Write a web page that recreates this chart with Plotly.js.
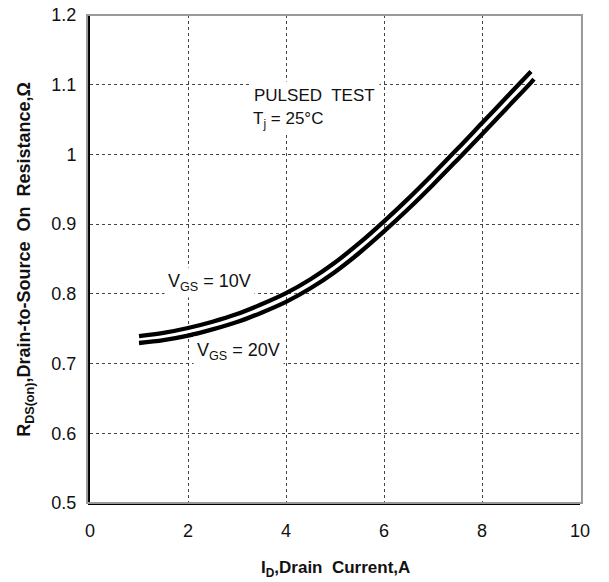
<!DOCTYPE html>
<html>
<head>
<meta charset="utf-8">
<script src="https://cdn.plot.ly/plotly-3.0.1.min.js"></script>
<style>html,body{margin:0;padding:0;background:#fff;}#chart{width:609px;height:582px;}</style>
</head>
<body>
<div id="chart"></div>
<script>
// Drain current (A) / on-resistance (ohm) for VGS = 10V curve
const idVgs10 = [1, 1.5, 2, 2.5, 3, 3.5, 4, 4.5, 5, 5.5, 6, 6.5, 7, 7.5, 8, 8.5, 9];
const rdsVgs10 = [0.7395, 0.744, 0.751, 0.760, 0.771, 0.785, 0.801, 0.821, 0.845, 0.873, 0.904, 0.937, 0.972, 1.008, 1.045, 1.082, 1.119];
// Drain current (A) / on-resistance (ohm) for VGS = 20V curve
const idVgs20 = [1, 1.5, 2, 2.5, 3, 3.5, 4, 4.5, 5, 5.5, 6, 6.5, 7, 7.5, 8, 8.5, 9, 9.06];
const rdsVgs20 = [0.7295, 0.7335, 0.740, 0.749, 0.7595, 0.773, 0.7885, 0.808, 0.8315, 0.859, 0.8895, 0.922, 0.9565, 0.9925, 1.029, 1.066, 1.103, 1.108];

const xTicks = [0, 2, 4, 6, 8, 10];
const xTickText = ['0', '2', '4', '6', '8', '10'];
const yTicks = [0.5, 0.6, 0.7, 0.8, 0.9, 1.0, 1.1, 1.2];
const yTickText = ['0.5', '0.6', '0.7', '0.8', '0.9', '1', '1.1', '1.2'];

const FONT = 'Liberation Sans, Arial, sans-serif';

const traces = [
  {x: idVgs10, y: rdsVgs10, name: 'VGS = 10V', mode: 'lines', line: {color: '#000', width: 4.3, shape: 'spline'}},
  {x: idVgs20, y: rdsVgs20, name: 'VGS = 20V', mode: 'lines', line: {color: '#000', width: 4.3, shape: 'spline'}}
];

const layout = {
  width: 609, height: 582,
  margin: {l: 90, r: 29, t: 15, b: 79},
  paper_bgcolor: '#fff', plot_bgcolor: '#fff',
  showlegend: false,
  font: {family: FONT, color: '#111', size: 17},
  xaxis: {
    range: [0, 10], tickvals: xTicks, ticktext: xTickText,
    showgrid: true, gridcolor: '#444', griddash: 'dot', gridwidth: 1,
    zeroline: false, showline: true, linecolor: '#000', linewidth: 2,
    ticks: '', ticklabelstandoff: 10,
    tickfont: {family: FONT, size: 18, color: '#111'}
  },
  yaxis: {
    range: [0.5, 1.2], tickvals: yTicks, ticktext: yTickText,
    showgrid: true, gridcolor: '#444', griddash: 'dot', gridwidth: 1,
    zeroline: false, showline: true, linecolor: '#000', linewidth: 2,
    ticks: '', ticklabelstandoff: 8,
    tickfont: {family: FONT, size: 18, color: '#111'}
  },
  shapes: [
    {type: 'rect', xref: 'paper', yref: 'paper', x0: -0.006, x1: 1.004, y0: 0, y1: 1,
     line: {color: '#999', width: 2}, fillcolor: 'rgba(0,0,0,0)', layer: 'above'}
  ],
  annotations: [
    {xref: 'paper', yref: 'paper', x: 0.5, y: -0.135, yanchor: 'middle', showarrow: false,
     text: '<b>I<sub>D</sub>,Drain  Current,A</b>', font: {family: FONT, size: 17, color: '#111'}},
    {xref: 'paper', yref: 'paper', x: -0.133, y: 0.5, xanchor: 'center', textangle: -90, showarrow: false,
     text: '<b>R<sub>DS(on)</sub>,Drain-to-Source  On  Resistance,Ω</b>', font: {family: FONT, size: 18, color: '#111'}},
    {xref: 'x', yref: 'y', x: 3.25, y: 1.084, xanchor: 'left', yanchor: 'middle', align: 'left', showarrow: false,
     bgcolor: '#fff', borderpad: 4,
     text: 'PULSED  TEST', font: {family: FONT, size: 17, color: '#111'}},
    {xref: 'x', yref: 'y', x: 3.25, y: 1.05, xanchor: 'left', yanchor: 'middle', align: 'left', showarrow: false,
     bgcolor: '#fff', borderpad: 3,
     text: 'T<sub>j</sub> = 25°C', font: {family: FONT, size: 17, color: '#111'}},
    {xref: 'x', yref: 'y', x: 1.5, y: 0.817, xanchor: 'left', yanchor: 'middle', showarrow: false,
     bgcolor: '#fff', borderpad: 3,
     text: 'V<sub>GS</sub> = 10V', font: {family: FONT, size: 18, color: '#111'}},
    {xref: 'x', yref: 'y', x: 2.1, y: 0.717, xanchor: 'left', yanchor: 'middle', showarrow: false,
     bgcolor: '#fff', borderpad: 3,
     text: 'V<sub>GS</sub> = 20V', font: {family: FONT, size: 18, color: '#111'}}
  ]
};

Plotly.newPlot('chart', traces, layout, {displayModeBar: false, staticPlot: true});
</script>
</body>
</html>
